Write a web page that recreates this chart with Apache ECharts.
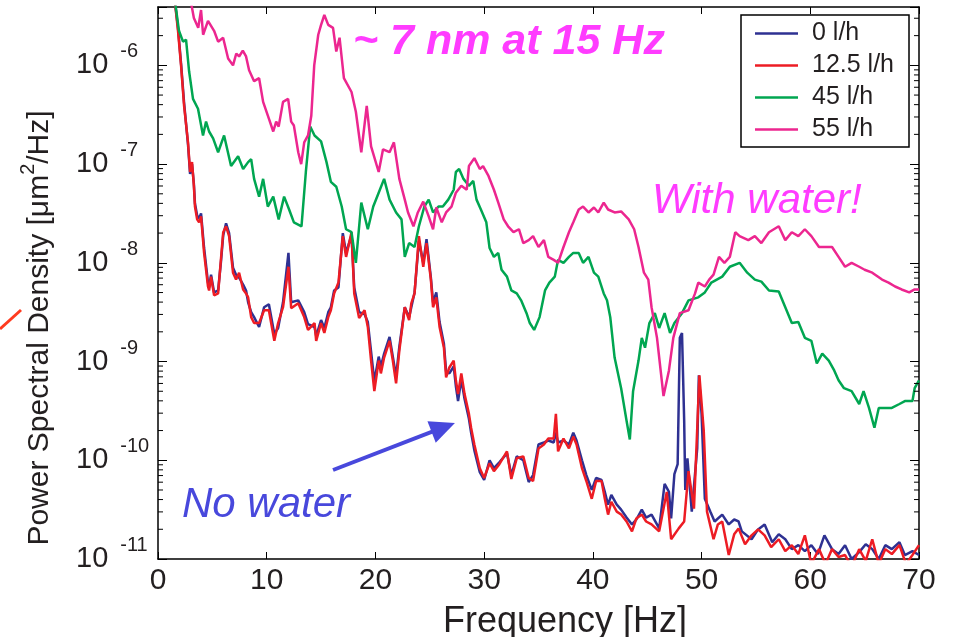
<!DOCTYPE html>
<html>
<head>
<meta charset="utf-8">
<script src="https://cdn.jsdelivr.net/npm/echarts@6/dist/echarts.min.js"></script>
<style>
html,body{margin:0;padding:0;background:#fff;}
#chart{width:955px;height:637px;}
</style>
</head>
<body>
<div id="chart"></div>
<script>
// ---------- DATA (frequency in Hz, PSD given as log10 of um^2/Hz) ----------
const seriesNames = ['0 l/h', '12.5 l/h', '45 l/h', '55 l/h'];
const xTicks = [0, 10, 20, 30, 40, 50, 60, 70];

const freq0 = [1.5,1.84,2.12,2.4,2.76,2.95,3.13,3.3,3.4,3.6,3.78,3.96,4.24,4.6,4.7,4.88,5.16,5.53,5.8,6.0,6.26,6.54,6.9,7.18,7.46,7.83,8.1,8.29,8.57,8.84,9.3,9.76,10.2,10.7,11.05,11.5,12.0,12.25,12.9,13.45,13.8,14.4,14.55,15.0,15.3,15.66,15.9,16.2,16.6,17.0,17.3,17.8,18.05,18.5,19.0,19.3,19.6,19.9,20.3,20.5,20.8,21.3,21.6,21.9,22.2,22.7,23.1,23.3,23.6,24.0,24.4,24.7,25.1,25.3,25.6,25.9,26.3,26.5,26.8,27.2,27.4,27.6,27.9,28.2,28.6,28.8,29.1,29.6,30.0,30.5,30.9,31.4,32.1,32.5,33.0,33.6,34.1,34.5,35.0,35.5,35.9,36.4,36.6,36.8,37.3,37.8,38.2,38.5,39.0,39.4,39.9,40.3,40.8,41.1,41.4,41.7,42.2,42.6,43.1,43.6,44.0,44.5,44.9,45.4,46.1,46.6,47.0,47.2,47.5,47.8,48.0,48.2,48.4,48.5,48.7,49.1,49.6,49.75,50.0,50.3,50.8,51.2,51.9,52.5,53.0,53.4,53.7,54.6,55.2,55.8,56.5,57.1,57.7,58.3,58.9,59.5,60.1,60.7,61.3,62.0,62.6,63.2,63.8,64.5,65.1,65.7,66.3,66.9,67.5,68.2,68.7,69.4,70.0];
const logPsd0 = [-5.3,-5.62,-5.98,-6.38,-6.8,-7.1,-7.0,-7.2,-7.4,-7.52,-7.55,-7.5,-7.85,-8.2,-8.25,-8.12,-8.3,-8.28,-7.98,-7.72,-7.6,-7.7,-8.05,-8.12,-8.15,-8.22,-8.28,-8.4,-8.5,-8.55,-8.65,-8.45,-8.42,-8.72,-8.66,-8.4,-7.9,-8.4,-8.38,-8.5,-8.62,-8.65,-8.74,-8.58,-8.66,-8.5,-8.45,-8.28,-8.25,-7.7,-7.9,-7.72,-8.25,-8.5,-8.52,-8.6,-8.9,-9.2,-8.95,-9.05,-8.92,-8.75,-8.95,-9.15,-8.85,-8.45,-8.55,-8.45,-8.3,-7.78,-8.0,-7.76,-8.15,-8.4,-8.3,-8.6,-8.82,-9.1,-9.12,-9.05,-9.25,-9.4,-9.18,-9.38,-9.58,-9.72,-9.9,-10.12,-10.2,-10.0,-10.08,-10.02,-9.93,-10.15,-9.96,-10.0,-10.22,-10.15,-9.84,-9.82,-9.8,-9.82,-9.72,-9.82,-9.8,-9.84,-9.72,-9.8,-10.0,-10.15,-10.3,-10.18,-10.2,-10.32,-10.45,-10.35,-10.45,-10.5,-10.58,-10.65,-10.6,-10.5,-10.58,-10.55,-10.69,-10.24,-10.32,-10.59,-10.14,-10.04,-8.76,-8.71,-9.6,-10.3,-9.98,-10.52,-9.88,-9.14,-9.53,-10.39,-10.52,-10.62,-10.55,-10.65,-10.6,-10.62,-10.72,-10.8,-10.7,-10.65,-10.83,-10.75,-10.8,-10.9,-10.86,-10.92,-10.86,-10.95,-10.76,-10.9,-10.95,-10.86,-11.0,-10.93,-10.85,-10.9,-11.0,-10.86,-10.9,-10.83,-10.96,-10.92,-10.96];

const freq12 = [1.5,1.84,2.12,2.4,2.76,2.95,3.13,3.3,3.4,3.6,3.78,3.96,4.24,4.6,4.7,4.88,5.16,5.53,5.8,6.0,6.26,6.54,6.9,7.18,7.46,7.83,8.1,8.29,8.57,8.84,9.3,9.76,10.2,10.7,11.05,11.5,12.0,12.25,12.9,13.45,13.8,14.4,14.55,15.0,15.3,15.66,15.9,16.2,16.6,17.0,17.3,17.8,18.05,18.5,19.0,19.3,19.6,19.9,20.3,20.5,20.8,21.3,21.6,21.9,22.2,22.7,23.1,23.3,23.6,24.0,24.4,24.7,25.1,25.3,25.6,25.9,26.3,26.5,26.8,27.2,27.4,27.6,27.9,28.2,28.6,28.8,29.1,29.6,30.0,30.5,30.9,31.4,32.1,32.5,33.0,33.6,34.1,34.5,35.0,35.5,35.9,36.4,36.6,36.8,37.3,37.8,38.2,38.5,39.0,39.4,39.9,40.3,40.8,41.1,41.4,41.7,42.2,42.6,43.1,43.6,44.0,44.5,44.9,45.4,46.1,46.8,47.2,47.9,48.4,48.8,49.3,49.8,50.2,50.5,51.1,51.5,51.9,52.5,53.0,53.4,54.0,54.6,55.2,55.8,56.4,57.1,57.7,58.3,58.9,59.5,60.1,60.8,61.4,62.0,62.6,63.2,63.8,64.5,65.1,65.7,66.3,66.9,67.5,68.2,68.8,69.4,70.0];
const logPsd12 = [-5.3,-5.65,-6.0,-6.41,-6.78,-7.08,-6.98,-7.22,-7.43,-7.56,-7.59,-7.53,-7.9,-8.24,-8.28,-8.14,-8.33,-8.31,-7.95,-7.69,-7.63,-7.73,-8.1,-8.17,-8.1,-8.27,-8.31,-8.35,-8.55,-8.61,-8.61,-8.48,-8.48,-8.79,-8.61,-8.45,-8.04,-8.46,-8.41,-8.55,-8.68,-8.61,-8.79,-8.61,-8.71,-8.55,-8.48,-8.31,-8.2,-7.73,-7.94,-7.69,-8.31,-8.56,-8.48,-8.65,-8.99,-9.3,-8.99,-9.12,-8.96,-8.79,-8.99,-9.22,-8.89,-8.45,-8.58,-8.41,-8.31,-7.73,-8.04,-7.8,-8.17,-8.45,-8.35,-8.65,-8.86,-9.16,-9.06,-8.99,-9.19,-9.33,-9.12,-9.33,-9.53,-9.67,-9.84,-10.08,-10.18,-10.03,-10.11,-10.04,-9.91,-10.19,-9.98,-9.96,-10.18,-10.21,-9.88,-9.84,-9.78,-9.78,-9.53,-9.91,-9.78,-9.88,-9.76,-9.84,-10.08,-10.21,-10.39,-10.21,-10.21,-10.39,-10.55,-10.42,-10.52,-10.55,-10.62,-10.72,-10.59,-10.55,-10.62,-10.65,-10.72,-10.32,-10.8,-10.69,-10.62,-10.11,-10.49,-9.14,-9.7,-10.52,-10.8,-10.65,-10.62,-10.96,-10.75,-10.69,-10.85,-10.76,-10.7,-10.76,-10.88,-10.8,-10.92,-10.86,-10.95,-10.76,-11.05,-10.9,-11.05,-10.9,-10.98,-10.96,-11.08,-10.9,-11.02,-10.8,-11.05,-10.9,-10.95,-10.86,-11.05,-10.96,-10.86];

const freq45 = [1.5,1.93,2.3,2.58,2.86,3.22,3.68,4.14,4.42,4.7,5.07,5.53,6.08,6.72,7.37,7.83,8.29,8.57,8.84,9.3,9.67,10.1,10.6,11.1,11.6,12.06,12.5,13.2,13.6,14.0,14.4,15.0,15.5,15.9,16.4,16.9,17.3,17.8,18.2,18.7,19.3,19.8,20.3,20.8,21.3,21.9,22.4,22.7,23.1,23.6,24.0,24.5,24.9,25.3,25.8,26.2,26.7,27.2,27.4,27.7,28.1,28.6,29.0,29.3,29.7,30.2,30.5,30.9,31.3,31.6,32.1,32.5,33.0,33.4,33.9,34.2,34.6,35.1,35.6,36.0,36.5,36.8,37.3,37.8,38.2,38.7,39.1,39.6,40.1,40.5,41.0,41.3,41.6,42.0,42.6,43.1,43.4,43.7,44.2,44.5,44.8,45.2,45.7,46.1,46.6,47.1,47.5,48.2,48.8,49.7,50.3,50.9,51.9,52.6,53.5,54.2,54.9,55.5,56.2,57.1,57.7,58.3,58.9,59.5,60.1,60.6,61.1,61.7,62.2,62.6,63.1,63.8,64.5,64.9,65.4,65.9,66.3,66.9,67.5,68.2,68.7,69.4,69.6,70.0];
const logPsd45 = [-5.3,-5.65,-5.76,-5.74,-6.06,-6.34,-6.44,-6.71,-6.57,-6.67,-6.74,-6.88,-6.71,-7.02,-6.92,-7.05,-6.98,-6.95,-7.15,-7.33,-7.15,-7.43,-7.33,-7.56,-7.33,-7.46,-7.59,-7.63,-7.08,-6.62,-6.71,-6.77,-6.98,-7.18,-7.23,-7.43,-7.66,-7.69,-8.0,-7.39,-7.66,-7.43,-7.29,-7.15,-7.36,-7.49,-7.56,-7.94,-7.8,-7.84,-7.63,-7.43,-7.36,-7.49,-7.43,-7.43,-7.36,-7.26,-7.08,-7.05,-7.15,-7.22,-7.17,-7.36,-7.46,-7.59,-7.85,-7.94,-7.9,-8.07,-8.14,-8.28,-8.31,-8.38,-8.51,-8.61,-8.68,-8.55,-8.28,-8.2,-8.14,-7.97,-8.0,-7.94,-7.9,-7.9,-8.0,-7.94,-8.1,-8.14,-8.31,-8.38,-8.55,-8.96,-9.27,-9.6,-9.79,-9.3,-8.99,-8.76,-8.86,-8.61,-8.51,-8.66,-8.51,-8.71,-8.61,-8.51,-8.38,-8.35,-8.3,-8.2,-8.14,-8.04,-8.0,-8.1,-8.17,-8.19,-8.28,-8.29,-8.45,-8.61,-8.6,-8.76,-8.79,-9.02,-8.92,-8.99,-9.09,-9.19,-9.27,-9.3,-9.43,-9.3,-9.47,-9.67,-9.47,-9.47,-9.47,-9.43,-9.4,-9.4,-9.27,-9.19];

const freq55 = [2.6,3.3,3.7,3.96,4.15,4.6,5.16,5.53,5.99,6.45,6.9,7.2,7.46,7.8,8.1,8.38,8.84,9.3,9.67,10.2,10.6,10.87,11.1,11.5,11.97,12.25,12.5,12.9,13.17,13.45,13.8,14.1,14.37,14.74,15.0,15.3,15.66,16.1,16.4,16.7,17.1,17.8,18.2,18.7,19.2,19.6,20.3,20.7,21.3,21.7,22.2,22.7,23.0,23.5,23.9,24.4,24.9,25.3,25.6,26.1,26.5,27.0,27.4,27.9,28.4,28.6,29.1,29.6,29.9,30.4,30.9,31.3,31.8,32.2,32.7,33.2,33.6,34.1,34.5,35.0,35.5,35.9,36.4,36.8,37.3,37.8,38.2,38.7,39.1,39.6,40.1,40.5,41.0,41.4,42.0,42.6,43.3,43.8,44.2,44.7,45.1,45.4,45.9,46.5,47.0,47.4,48.0,48.8,49.4,49.7,50.3,50.7,51.1,51.6,52.1,52.6,53.1,53.5,54.3,54.9,55.5,56.2,57.1,57.7,58.3,58.9,59.5,60.1,60.8,61.3,62.0,62.6,63.2,63.8,64.5,65.0,65.7,66.6,67.2,67.8,68.4,69.1,69.6,70.0];
const logPsd55 = [-5.1,-5.52,-5.62,-5.44,-5.69,-5.55,-5.65,-5.76,-5.72,-5.93,-6.0,-5.88,-5.91,-5.85,-5.91,-6.05,-6.16,-6.13,-6.37,-6.54,-6.67,-6.57,-6.62,-6.37,-6.34,-6.57,-6.61,-6.88,-7.0,-6.78,-6.71,-6.51,-6.0,-5.69,-5.59,-5.49,-5.59,-5.62,-5.86,-5.72,-6.13,-6.27,-6.47,-6.88,-6.41,-6.82,-7.08,-6.85,-6.88,-6.78,-7.15,-7.36,-7.49,-7.63,-7.49,-7.38,-7.53,-7.66,-7.44,-7.59,-7.49,-7.43,-7.29,-7.22,-7.26,-7.02,-6.94,-7.05,-7.02,-7.12,-7.26,-7.39,-7.56,-7.63,-7.69,-7.66,-7.8,-7.77,-7.73,-7.84,-7.77,-7.94,-7.97,-8.0,-7.84,-7.69,-7.59,-7.46,-7.43,-7.49,-7.44,-7.49,-7.39,-7.46,-7.49,-7.48,-7.56,-7.66,-7.84,-8.1,-8.17,-8.45,-8.76,-9.35,-9.09,-8.76,-8.51,-8.48,-8.31,-8.2,-8.24,-8.17,-8.12,-7.94,-8.0,-7.94,-7.69,-7.73,-7.77,-7.73,-7.8,-7.69,-7.63,-7.77,-7.69,-7.73,-7.66,-7.73,-7.84,-7.84,-7.84,-7.94,-8.04,-8.0,-8.04,-8.07,-8.1,-8.17,-8.2,-8.24,-8.27,-8.3,-8.27,-8.27];

// annotation arrow ("No water"), in data units [Hz, PSD]
const arrowFrom = [16.1, 7.97e-11];
const arrowTo = [26.24, 2.15e-10];

// ---------- CHART ----------
const FONT = '"Liberation Sans", Arial, Helvetica, sans-serif';
const TXT = '#231f20';
const colors = ['#2E3192', '#ED1C24', '#00A651', '#EC268F'];
const yMin = 1e-11, yMax = 3.9e-6;

function toPairs(fr, lg) { return fr.map((f, i) => [f, Math.pow(10, lg[i])]); }
const allData = [toPairs(freq0, logPsd0), toPairs(freq12, logPsd12), toPairs(freq45, logPsd45), toPairs(freq55, logPsd55)];

function yLabel(v) {
  const e = Math.log10(v);
  const r = Math.round(e);
  if (Math.abs(e - r) > 1e-6) return '';
  return '{b|10}{s|' + r + '}';
}

const chart = echarts.init(document.getElementById('chart'), null, {renderer: 'canvas'});

const lineSeries = seriesNames.map((name, i) => ({
  name: name,
  type: 'line',
  xAxisIndex: 0,
  yAxisIndex: 0,
  data: allData[i],
  showSymbol: false,
  symbol: 'none',
  clip: true,
  z: 3 + i,
  lineStyle: {color: colors[i], width: 2.5},
  itemStyle: {color: colors[i]},
  emphasis: {disabled: true},
  animation: false
}));

lineSeries[0].markLine = {
  silent: true,
  animation: false,
  symbol: ['none', 'triangle'],
  symbolSize: [23, 25],
  label: {show: false},
  emphasis: {disabled: true},
  lineStyle: {color: '#4848DC', width: 4, type: 'solid'},
  itemStyle: {color: '#4848DC'},
  data: [[{coord: arrowFrom}, {coord: arrowTo}]]
};

// minor ticks of the log axis (2..9 x 10^n), placed through the axis scale
const minorSeries = {
  type: 'custom',
  xAxisIndex: 0,
  yAxisIndex: 0,
  silent: true,
  animation: false,
  z: 10,
  data: [[0]],
  renderItem: function (params, api) {
    const cs = params.coordSys;
    const children = [];
    for (let d = -11; d <= -6; d++) {
      for (let m = 2; m <= 9; m++) {
        const v = m * Math.pow(10, d);
        if (v >= yMax) continue;
        const y = api.coord([0, v])[1];
        children.push({type: 'line', shape: {x1: cs.x, y1: y, x2: cs.x + 5, y2: y}, style: {stroke: '#000', lineWidth: 1}});
        children.push({type: 'line', shape: {x1: cs.x + cs.width - 5, y1: y, x2: cs.x + cs.width, y2: y}, style: {stroke: '#000', lineWidth: 1}});
      }
    }
    return {type: 'group', children: children};
  }
};

const option = {
  backgroundColor: '#fff',
  animation: false,
  grid: {left: 158, right: 36, top: 7, bottom: 78, containLabel: false},
  legend: {
    data: seriesNames,
    orient: 'vertical',
    left: 741,
    top: 15,
    padding: [6, 15, 5, 14],
    itemGap: 7,
    itemWidth: 43,
    itemHeight: 2.5,
    icon: 'rect',
    backgroundColor: '#fff',
    borderColor: '#000',
    borderWidth: 1.5,
    borderRadius: 0,
    selectedMode: false,
    textStyle: {fontFamily: FONT, fontSize: 25, lineHeight: 25, color: TXT, padding: [0, 0, 0, 9]}
  },
  xAxis: [{
    type: 'value', min: 0, max: 70, interval: 10,
    axisLine: {show: true, onZero: false, lineStyle: {color: '#000', width: 1.5}},
    axisTick: {show: true, inside: true, length: 7, lineStyle: {color: '#000', width: 1}},
    axisLabel: {show: true, margin: 7, fontFamily: FONT, fontSize: 30, color: TXT,
      formatter: v => (xTicks.indexOf(v) >= 0 ? String(v) : '')},
    splitLine: {show: false}
  }, {
    type: 'value', min: 0, max: 70, interval: 10, position: 'top',
    axisLine: {show: true, onZero: false, lineStyle: {color: '#000', width: 1.5}},
    axisTick: {show: true, inside: true, length: 7, lineStyle: {color: '#000', width: 1}},
    axisLabel: {show: false},
    splitLine: {show: false}
  }],
  yAxis: [{
    type: 'log', logBase: 10, min: yMin, max: yMax,
    axisLine: {show: true, onZero: false, lineStyle: {color: '#000', width: 1.5}},
    axisTick: {show: true, inside: true, length: 9, lineStyle: {color: '#000', width: 1}},
    axisLabel: {
      show: true, align: 'left', margin: 82, formatter: yLabel,
      rich: {
        b: {fontFamily: FONT, fontSize: 29, color: TXT, verticalAlign: 'middle'},
        s: {fontFamily: FONT, fontSize: 20, color: TXT, verticalAlign: 'middle', padding: [0, 0, 27, 12]}
      }
    },
    splitLine: {show: false}
  }, {
    type: 'log', logBase: 10, min: yMin, max: yMax, position: 'right',
    axisLine: {show: true, onZero: false, lineStyle: {color: '#000', width: 1.5}},
    axisTick: {show: true, inside: true, length: 9, lineStyle: {color: '#000', width: 1}},
    axisLabel: {show: false},
    splitLine: {show: false}
  }],
  series: lineSeries.concat([minorSeries]),
  graphic: [
    {
      type: 'text', x: 40, y: 328, rotation: Math.PI / 2, silent: true,
      style: {
        text: 'Power Spectral Density [μm{sup|2}/Hz]',
        font: '30px ' + FONT, fill: TXT, align: 'center', verticalAlign: 'middle',
        rich: {sup: {fontFamily: FONT, fontSize: 20, fill: TXT, color: TXT, verticalAlign: 'middle', padding: [0, 0, 24, 0]}}
      }
    },
    {
      type: 'text', x: 565, y: 622, silent: true,
      style: {text: 'Frequency [Hz]', font: '36px ' + FONT, fill: TXT, align: 'center', verticalAlign: 'middle'}
    },
    {
      type: 'text', x: 353, y: 42, silent: true,
      style: {text: '~ 7 nm at 15 Hz', font: 'italic bold 43px ' + FONT, fill: '#FF3CFF', align: 'left', verticalAlign: 'middle'}
    },
    {
      type: 'text', x: 652, y: 201, silent: true,
      style: {text: 'With water!', font: 'italic 42px ' + FONT, fill: '#FF3CFF', align: 'left', verticalAlign: 'middle'}
    },
    {
      type: 'text', x: 182, y: 505, silent: true,
      style: {text: 'No water', font: 'italic 42px ' + FONT, fill: '#4848DC', align: 'left', verticalAlign: 'middle'}
    },
    {
      type: 'line', silent: true,
      shape: {x1: 0, y1: 329, x2: 21, y2: 310},
      style: {stroke: '#FF3B1F', lineWidth: 3}
    }
  ]
};

chart.setOption(option);
</script>
</body>
</html>
